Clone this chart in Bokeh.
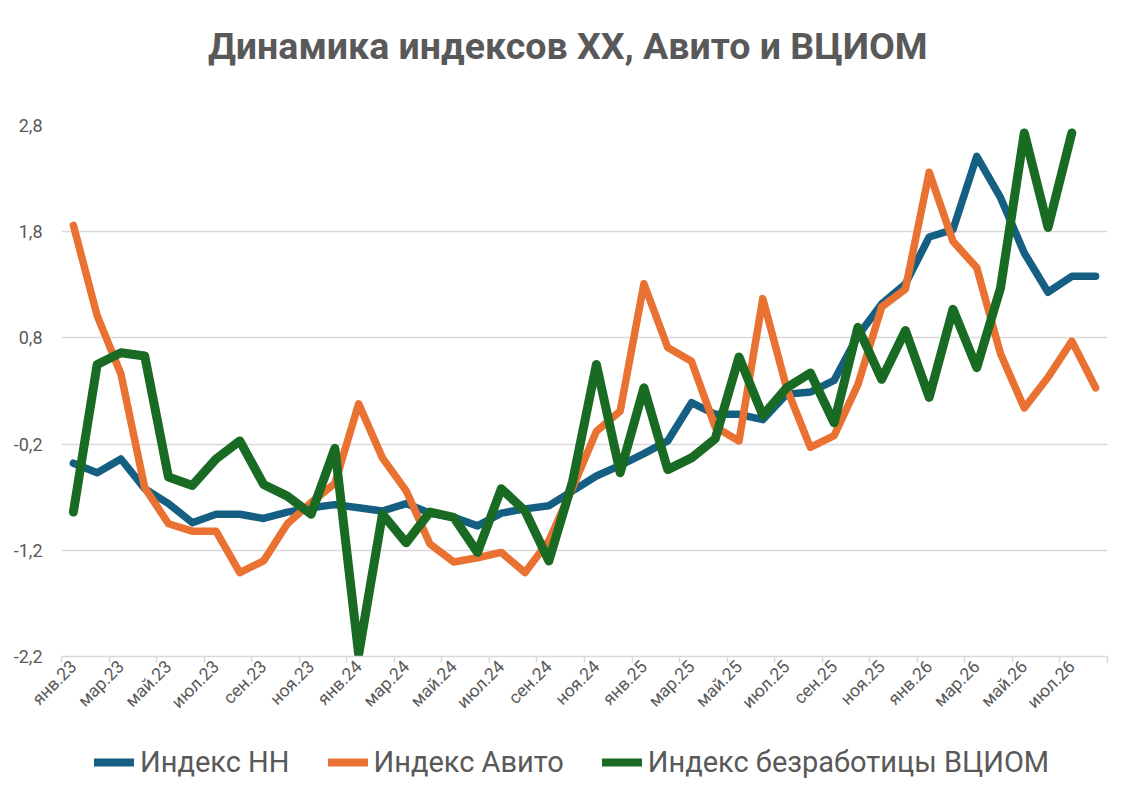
from bokeh.plotting import figure
from bokeh.layouts import column
from bokeh.models import (FixedTicker, LinearAxis, Legend, LegendItem, Range1d,
                          ColumnDataSource, Grid, Label)
from bokeh.embed import file_html
from bokeh.resources import INLINE

# ---- data ----
month_names = ["янв", "фев", "мар", "апр", "май", "июн",
               "июл", "авг", "сен", "окт", "ноя", "дек"]
years = ["23", "24", "25", "26"]
periods = [f"{m}.{y}" for y in years for m in month_names][:44]  # янв.23 .. авг.26

index_hh = [-0.38, -0.47, -0.34, -0.62, -0.76, -0.94, -0.86, -0.86, -0.90, -0.84,
            -0.80, -0.77, -0.80, -0.83, -0.76, -0.85, -0.89, -0.97, -0.85, -0.81,
            -0.78, -0.64, -0.50, -0.40, -0.29, -0.17, 0.19, 0.08, 0.08, 0.03,
            0.27, 0.29, 0.40, 0.82, 1.12, 1.31, 1.75, 1.82, 2.51, 2.12,
            1.60, 1.23, 1.38, 1.38]
index_avito = [1.86, 1.01, 0.46, -0.61, -0.95, -1.02, -1.02, -1.41, -1.30, -0.95,
               -0.75, -0.57, 0.18, -0.33, -0.64, -1.14, -1.31, -1.27, -1.22, -1.41,
               -1.11, -0.61, -0.08, 0.11, 1.31, 0.71, 0.58, -0.04, -0.17, 1.17,
               0.33, -0.23, -0.12, 0.36, 1.09, 1.26, 2.36, 1.71, 1.46, 0.65,
               0.14, 0.43, 0.77, 0.33]
index_vciom = [-0.84, 0.55, 0.66, 0.63, -0.51, -0.59, -0.34, -0.17, -0.58, -0.69,
               -0.86, -0.24, -2.18, -0.86, -1.13, -0.84, -0.89, -1.22, -0.62, -0.83,
               -1.30, -0.55, 0.55, -0.47, 0.33, -0.44, -0.33, -0.15, 0.62, 0.07,
               0.33, 0.47, 0.00, 0.90, 0.41, 0.87, 0.24, 1.07, 0.52, 1.27,
               2.73, 1.84, 2.73, None]
y_ticks = [-2.2, -1.2, -0.2, 0.8, 1.8, 2.8]
y_tick_labels = ["-2,2", "-1,2", "-0,2", "0,8", "1,8", "2,8"]
series_names = ["Индекс НН", "Индекс Авито", "Индекс безработицы ВЦИОМ"]
colors = ["#156082", "#E97132", "#196B24"]
title_text = "Динамика индексов ХХ, Авито и ВЦИОМ"

TXT = "#595959"
GRID = "#d9d9d9"
FONT = "Roboto"
W = 1126
widths = [7.5, 7.5, 9]

x = list(range(len(periods)))
series = [index_hh, index_avito, index_vciom]
sources = []
for vals in series:
    xs = [xi for xi, v in zip(x, vals) if v is not None]
    ys = [v for v in vals if v is not None]
    sources.append(dict(x=xs, y=ys))


def bare(height, yr=(0, 1)):
    f = figure(width=W, height=height, output_backend="svg", toolbar_location=None,
               x_axis_type=None, y_axis_type=None,
               x_range=Range1d(0, 1), y_range=Range1d(*yr),
               min_border_left=0, min_border_right=0, min_border_top=0,
               min_border_bottom=0)
    f.outline_line_color = None
    f.grid.visible = False
    f.background_fill_color = "white"
    f.border_fill_color = "white"
    return f


# ---- title strip ----
p_title = bare(90)
p_title.add_layout(Label(x=0.484, y=0.5, text=title_text, text_align="center",
                         text_baseline="middle", text_font=FONT,
                         text_font_size="37.5px", text_font_style="bold",
                         text_color=TXT))

# ---- main chart ----
p = figure(output_backend="svg", toolbar_location=None,
           frame_width=1046, frame_height=531,
           x_axis_type=None, y_axis_type=None,
           x_range=Range1d(-0.5, len(periods) - 0.5), y_range=Range1d(-2.2, 2.8),
           min_border_left=61, min_border_right=W - 61 - 1046, min_border_top=35,
           min_border_bottom=70)
p.outline_line_color = None
p.background_fill_color = "white"
p.border_fill_color = "white"

yticker = FixedTicker(ticks=y_ticks)
yaxis = LinearAxis(ticker=yticker)
yaxis.major_label_overrides = {t: l for t, l in zip(y_ticks, y_tick_labels)}
yaxis.axis_line_color = None
yaxis.major_tick_line_color = None
yaxis.minor_tick_line_color = None
yaxis.major_tick_in = 0
yaxis.major_tick_out = 0
yaxis.minor_tick_in = 0
yaxis.minor_tick_out = 0
yaxis.major_label_text_font = FONT
yaxis.major_label_text_font_size = "18px"
yaxis.major_label_text_color = TXT
yaxis.major_label_standoff = 19
p.add_layout(yaxis, "left")
p.add_layout(Grid(dimension=1, ticker=yticker, grid_line_color=GRID,
                  grid_line_width=1.5))

label_pos = list(range(0, len(periods), 2))
tick_pos = [i - 0.5 for i in range(0, len(periods) + 1, 2)]
xaxis = LinearAxis(ticker=FixedTicker(ticks=label_pos, minor_ticks=tick_pos))
xaxis.major_label_overrides = {i: periods[i] for i in label_pos}
xaxis.axis_line_color = GRID
xaxis.axis_line_width = 1.5
xaxis.major_tick_line_color = None
xaxis.major_tick_in = 0
xaxis.major_tick_out = 6
xaxis.minor_tick_line_color = GRID
xaxis.minor_tick_line_width = 1.5
xaxis.minor_tick_in = 0
xaxis.minor_tick_out = 6
xaxis.major_label_orientation = 0.785398
xaxis.major_label_text_font = FONT
xaxis.major_label_text_font_size = "17.5px"
xaxis.major_label_text_color = TXT
xaxis.major_label_standoff = 1
p.add_layout(xaxis, "below")

for src, col, w in zip(sources, colors, widths):
    p.line("x", "y", source=ColumnDataSource(src), line_color=col,
           line_width=w, line_join="round", line_cap="round")

# ---- legend strip (same series, kept out of its visible range) ----
p_leg = bare(77, yr=(100, 101))
p_leg.x_range = Range1d(1000, 1001)
leg_renderers = []
for src, col in zip(sources, colors):
    r = p_leg.line("x", "y", source=ColumnDataSource(src), line_color=col,
                   line_width=8, line_cap="round")
    leg_renderers.append(r)
legend = Legend(items=[LegendItem(label=n, renderers=[r])
                       for n, r in zip(series_names, leg_renderers)],
                orientation="horizontal", location=(33, 24),
                glyph_width=40, glyph_height=24, label_text_font=FONT,
                label_text_font_size="29px", label_text_color=TXT,
                label_standoff=6, spacing=38, padding=0, margin=0,
                border_line_color=None, background_fill_alpha=0)
p_leg.add_layout(legend, "center")

layout = column(p_title, p, p_leg, spacing=0)
open("out.html", "w").write(file_html(layout, INLINE))
